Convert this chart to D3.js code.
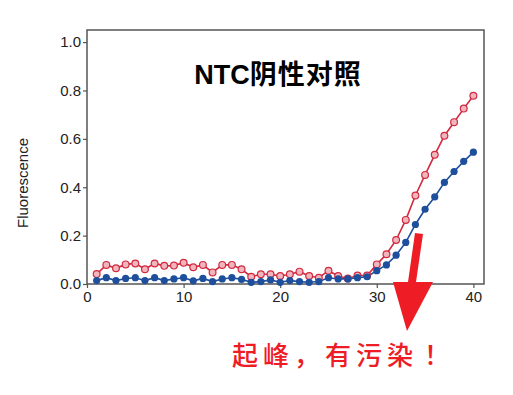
<!DOCTYPE html>
<html>
<head>
<meta charset="utf-8">
<script src="https://cdn.jsdelivr.net/npm/d3@7"></script>
<style>
  body { margin: 0; background: #fff; }
  text { font-family: "Liberation Sans", Arial, sans-serif; }
</style>
</head>
<body>
<div id="chart"></div>
<script>
var width = 513, height = 395;

// cycles 1..40
var cycles = d3.range(1, 41);
var redVals = [0.041, 0.079, 0.065, 0.081, 0.085, 0.061, 0.085, 0.075, 0.076, 0.088,
               0.069, 0.079, 0.048, 0.079, 0.079, 0.061, 0.030, 0.040, 0.040, 0.033,
               0.040, 0.051, 0.033, 0.026, 0.055, 0.033, 0.023, 0.035, 0.035, 0.081,
               0.123, 0.182, 0.265, 0.366, 0.451, 0.534, 0.613, 0.669, 0.725, 0.778];
var blueVals = [0.014, 0.026, 0.014, 0.023, 0.026, 0.014, 0.026, 0.014, 0.021, 0.026,
                0.013, 0.023, 0.010, 0.021, 0.026, 0.019, 0.007, 0.010, 0.017, 0.007,
                0.014, 0.010, 0.007, 0.010, 0.026, 0.021, 0.021, 0.026, 0.030, 0.055,
                0.079, 0.119, 0.172, 0.246, 0.309, 0.360, 0.420, 0.465, 0.507, 0.545];
var xTicks = [0, 10, 20, 30, 40];
var yTicks = [0, 0.2, 0.4, 0.6, 0.8, 1.0];

var redColor = "#d2293f";
var blueColor = "#1d4f9c";

var svg = d3.select("#chart").append("svg")
    .attr("width", width)
    .attr("height", height);

var x = d3.scaleLinear().domain([0, 41.1]).range([87, 484]);
var y = d3.scaleLinear().domain([0, 1.05]).range([284, 30]);

// frame
svg.append("rect")
    .attr("x", x(0)).attr("y", y(1.05))
    .attr("width", x(41.1) - x(0))
    .attr("height", y(0) - y(1.05))
    .attr("fill", "none")
    .attr("stroke", "#555")
    .attr("stroke-width", 1.5);

var xAxis = svg.append("g")
    .attr("transform", "translate(0," + y(0) + ")")
    .call(d3.axisBottom(x).tickValues(xTicks).tickSize(4).tickPadding(3).tickFormat(d3.format("d")));

var yAxis = svg.append("g")
    .attr("transform", "translate(" + x(0) + ",0)")
    .call(d3.axisLeft(y).tickValues(yTicks).tickSize(4).tickPadding(2).tickFormat(d3.format(".1f")));

[xAxis, yAxis].forEach(function(a) {
  a.select(".domain").remove();
  a.selectAll("line").attr("stroke", "#555").attr("stroke-width", 1.2);
  a.selectAll("text").style("font-size", "15px").attr("fill", "#222")
    .style("font-family", "'Liberation Sans', Arial, sans-serif");
});

svg.append("text")
    .attr("transform", "translate(28,183) rotate(-90)")
    .attr("text-anchor", "middle")
    .style("font-size", "15px")
    .attr("fill", "#222")
    .text("Fluorescence");

var line = d3.line()
    .x(function(d, i) { return x(cycles[i]); })
    .y(function(d) { return y(d); });

svg.append("path").datum(redVals)
    .attr("d", line).attr("fill", "none")
    .attr("stroke", redColor).attr("stroke-width", 1.6);

svg.append("path").datum(blueVals)
    .attr("d", line).attr("fill", "none")
    .attr("stroke", blueColor).attr("stroke-width", 1.6);

svg.selectAll(".red-dot")
    .data(redVals)
    .enter().append("circle")
    .attr("class", "red-dot")
    .attr("cx", function(d, i) { return x(cycles[i]); })
    .attr("cy", function(d) { return y(d); })
    .attr("r", 3.4)
    .attr("fill", "#f0b5bd")
    .attr("stroke", redColor)
    .attr("stroke-width", 1.2);

svg.selectAll(".blue-dot")
    .data(blueVals)
    .enter().append("circle")
    .attr("class", "blue-dot")
    .attr("cx", function(d, i) { return x(cycles[i]); })
    .attr("cy", function(d) { return y(d); })
    .attr("r", 3.6)
    .attr("fill", blueColor);

// title
var title = svg.append("text")
    .attr("x", 278).attr("y", 84)
    .attr("text-anchor", "middle")
    .style("font-size", "27px")
    .attr("fill", "#000");
title.append("tspan")
    .style("font-weight", "bold")
    .style("font-family", "'Liberation Sans', Arial, sans-serif")
    .text("NTC");
title.append("tspan")
    .style("font-weight", "bold")
    .style("font-family", "'Noto Sans CJK SC', sans-serif")
    .attr("letter-spacing", "1px")
    .text("阴性对照");

// red arrow
var arrowRed = "#ee1c25";
svg.append("path")
    .attr("d", "M415,233 L423,234 L416,282 L433,282 L407,331 L393,282 L408,282 Z")
    .attr("fill", arrowRed);

var note = svg.append("text")
    .attr("x", 232).attr("y", 365)
    .style("font-size", "26px")
    .style("font-weight", "500")
    .attr("letter-spacing", "5px")
    .style("font-family", "'Noto Sans CJK SC', sans-serif")
    .attr("fill", arrowRed);
note.append("tspan").text("起峰，有污染");
note.append("tspan").attr("dx", 6).text("！");
</script>
</body>
</html>
